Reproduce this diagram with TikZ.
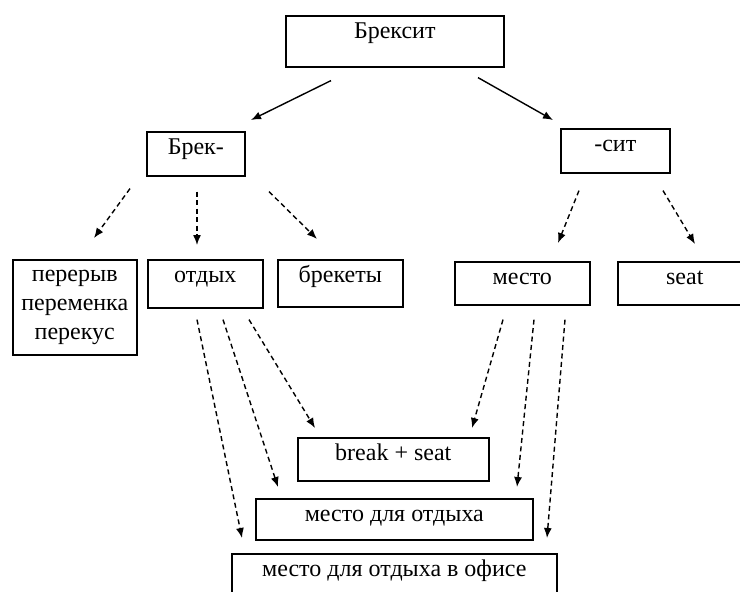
\documentclass[tikz,border=0pt]{standalone}
\usepackage{fontspec}
\setmainfont{Liberation Serif}
\usepackage{tikz}
\usetikzlibrary{arrows.meta}
\tikzstyle{box} = [rectangle, draw=black, line width=1.6pt, anchor=north west, inner sep=0pt, align=center, font=\fontsize{24}{29}\selectfont]
\tikzstyle{topline} = [text height=23pt, text depth=#1]
\tikzstyle{arrow} = [line width=1.4pt, -{Latex[length=10pt,width=8pt]}]
\tikzstyle{dasharrow} = [arrow, dash pattern=on 5pt off 3.5pt]

\begin{document}
\begin{tikzpicture}[x=1pt, y=-1pt]
   \path[use as bounding box, clip] (0,0) rectangle (740,592);
   % top level
   \node (brexit) [box, topline=28pt, minimum width=218pt] at (285,15) {Брексит};
   \node (brek) [box, topline=21pt, minimum width=98pt] at (146,131) {Брек-};
   \node (sit) [box, topline=21pt, minimum width=109pt] at (560,128) {-сит};
   % third row
   \node (pereryv) [box, minimum width=124pt, minimum height=95pt] at (12,259) {перерыв\\переменка\\перекус};
   \node (otdyh) [box, topline=25pt, minimum width=115pt] at (147,259) {отдых};
   \node (brekety) [box, topline=24pt, minimum width=125pt] at (277,259) {брекеты};
   \node (mesto) [box, topline=20pt, minimum width=135pt] at (454,261) {место};
   \node (seat) [box, topline=20pt, minimum width=134pt] at (617,261) {seat};
   % results
   \node (bs) [box, topline=20pt, minimum width=191pt] at (297,437) {break + seat};
   \node (mdo) [box, topline=18pt, minimum width=277pt] at (255,498) {место для отдыха};
   \node (office) [box, topline=27pt, minimum width=325pt] at (231,553) {место для отдыха в офисе};
   % arrows
   \draw [arrow] ([shift={(46,13)}]brexit.south west) -- ([shift={(105,-11)}]brek.north west);
   \draw [arrow] ([shift={(193,10)}]brexit.south west) -- ([shift={(-7,-8)}]sit.north west);
   \draw [dasharrow] ([shift={(-16,12)}]brek.south west) -- ([shift={(82,-21)}]pereryv.north west);
   \draw [dasharrow] ([shift={(51,15)}]brek.south west) -- ([shift={(50,-14)}]otdyh.north west);
   \draw [dasharrow] ([shift={(123,15)}]brek.south west) -- ([shift={(40,-20)}]brekety.north west);
   \draw [dasharrow] ([shift={(19,17)}]sit.south west) -- ([shift={(104,-18)}]mesto.north west);
   \draw [dasharrow] ([shift={(103,17)}]sit.south west) -- ([shift={(78,-17)}]seat.north west);
   \draw [dasharrow] ([shift={(50,11)}]otdyh.south west) -- ([shift={(11,-15)}]office.north west);
   \draw [dasharrow] ([shift={(76,11)}]otdyh.south west) -- ([shift={(23,-11)}]mdo.north west);
   \draw [dasharrow] ([shift={(102,11)}]otdyh.south west) -- ([shift={(18,-9)}]bs.north west);
   \draw [dasharrow] ([shift={(49,14)}]mesto.south west) -- ([shift={(175,-9)}]bs.north west);
   \draw [dasharrow] ([shift={(80,14)}]mesto.south west) -- ([shift={(262,-11)}]mdo.north west);
   \draw [dasharrow] ([shift={(111,14)}]mesto.south west) -- ([shift={(316,-15)}]office.north west);
\end{tikzpicture}
\end{document}
